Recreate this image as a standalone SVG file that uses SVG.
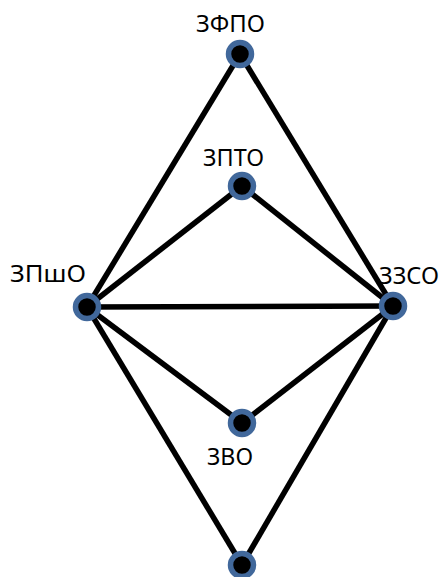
<svg xmlns="http://www.w3.org/2000/svg" width="441" height="577" viewBox="0 0 441 577">
<style>
.edge{stroke:#000;stroke-width:5.5;fill:none}
.node{fill:#000;stroke:#41689B;stroke-width:5.5}
.lbl{font-family:"Noto Sans","Open Sans",sans-serif;font-size:24px;fill:#000}
</style>
<rect width="441" height="577" fill="#fff"/>
<g id="connectors">
<line class="edge" x1="240" y1="54" x2="87" y2="307"/>
<line class="edge" x1="240" y1="54" x2="393" y2="306"/>
<line class="edge" x1="242" y1="186" x2="87" y2="307"/>
<line class="edge" x1="242" y1="186" x2="393" y2="306"/>
<line class="edge" x1="87" y1="307" x2="393" y2="306"/>
<line class="edge" x1="87" y1="307" x2="242" y2="423"/>
<line class="edge" x1="242" y1="423" x2="393" y2="306"/>
<line class="edge" x1="87" y1="307" x2="242" y2="565"/>
<line class="edge" x1="242" y1="565" x2="393" y2="306"/>
</g>
<g id="n-zfpo"><circle class="node" cx="240" cy="54" r="11.5"/><text class="lbl" x="196" y="32" textLength="69" lengthAdjust="spacingAndGlyphs">ЗФПО</text></g>
<g id="n-zpto"><circle class="node" cx="242" cy="186" r="11.5"/><text class="lbl" x="203" y="166" textLength="61" lengthAdjust="spacingAndGlyphs">ЗПТО</text></g>
<g id="n-zpsho"><circle class="node" cx="87" cy="307" r="11.5"/><text class="lbl" x="10" y="282" textLength="76" lengthAdjust="spacingAndGlyphs">ЗПшО</text></g>
<g id="n-zzso"><circle class="node" cx="393" cy="306" r="11.5"/><text class="lbl" x="379" y="284" textLength="60" lengthAdjust="spacingAndGlyphs">ЗЗСО</text></g>
<g id="n-zvo"><circle class="node" cx="242" cy="423" r="11.5"/><text class="lbl" x="207" y="465" textLength="46" lengthAdjust="spacingAndGlyphs">ЗВО</text></g>
<g id="n-bottom"><circle class="node" cx="242" cy="565" r="11.5"/></g>
</svg>
